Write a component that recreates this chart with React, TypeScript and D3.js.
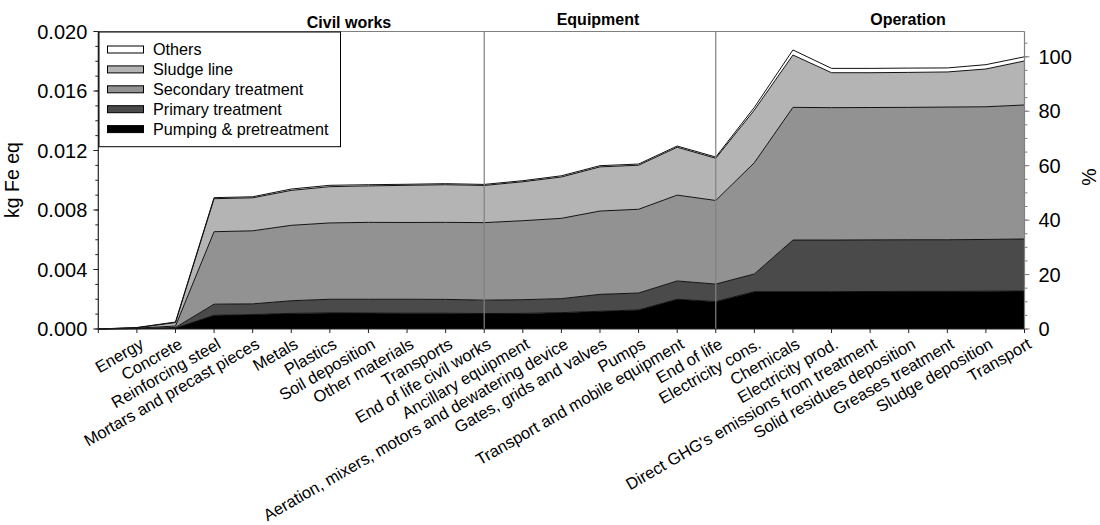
import React from "react";
import * as d3 from "d3";

// Process contributions (kg Fe eq), accumulated along the life-cycle steps
const categories = [
  "Energy", "Concrete", "Reinforcing steel", "Mortars and precast pieces", "Metals", "Plastics",
  "Soil deposition", "Other materials", "Transports", "End of life civil works",
  "Ancillary equipment", "Aeration, mixers, motors and dewatering device", "Gates, grids and valves",
  "Pumps", "Transport and mobile equipment", "End of life",
  "Electricity cons.", "Chemicals", "Electricity prod.", "Direct GHG's emissions from treatment",
  "Solid residues deposition", "Greases treatment", "Sludge deposition", "Transport",
];

const pumping = [0.00002, 0.00006, 0.00092, 0.00097, 0.00105, 0.00108, 0.00107, 0.00106, 0.00106, 0.00104, 0.00105, 0.0011, 0.00119, 0.00128, 0.002, 0.00184, 0.00251, 0.00251, 0.00251, 0.00252, 0.00253, 0.00253, 0.00254, 0.00255];
const primary = [0.00001, 0.00004, 0.00075, 0.00072, 0.00085, 0.00092, 0.00093, 0.00094, 0.00093, 0.0009, 0.00092, 0.00094, 0.00114, 0.00114, 0.00123, 0.00118, 0.00119, 0.00347, 0.00347, 0.00347, 0.00347, 0.00347, 0.00348, 0.0035];
const secondary = [0.00003, 0.0001, 0.00487, 0.00491, 0.00507, 0.00513, 0.00517, 0.00516, 0.00518, 0.00521, 0.00531, 0.0054, 0.0056, 0.00563, 0.00577, 0.00562, 0.00748, 0.00892, 0.0089, 0.0089, 0.0089, 0.00892, 0.00892, 0.00901];
const sludge = [0.00003, 0.00023, 0.00222, 0.00222, 0.00235, 0.00244, 0.00245, 0.0025, 0.00253, 0.0025, 0.00262, 0.00278, 0.00297, 0.00296, 0.00322, 0.00284, 0.00354, 0.00352, 0.00235, 0.00234, 0.00235, 0.00236, 0.00254, 0.00296];
const others = [0.00001, 0.00004, 0.00007, 0.00007, 0.00009, 0.00009, 0.00008, 0.00007, 0.00007, 0.00007, 0.00007, 0.00008, 0.00008, 0.00008, 0.00008, 0.00008, 0.00018, 0.00034, 0.00029, 0.00029, 0.00029, 0.00027, 0.00029, 0.00028];

const seriesNames = ["Pumping & pretreatment", "Primary treatment", "Secondary treatment", "Sludge line", "Others"];
const seriesColors = ["#000000", "#4a4a4a", "#929292", "#b4b4b4", "#ffffff"];
const seriesValues = [pumping, primary, secondary, sludge, others];

const groups = [
  { name: "Civil works", from: 0, to: 10 },
  { name: "Equipment", from: 10, to: 16 },
  { name: "Operation", from: 16, to: 24 },
];
const groupDividers = [10, 16];

const leftTicks = [0, 0.004, 0.008, 0.012, 0.016, 0.02];
const rightTicks = [0, 20, 40, 60, 80, 100];

const W = 1100;
const H = 525;
const M = { left: 98.3, right: 1024.5, top: 31.5, bottom: 329 };
const FONT = "'Liberation Sans', Arial, Helvetica, sans-serif";

export default function App() {
  // the series start from zero at the origin, then one point per step
  const rows = d3.range(categories.length + 1).map((i) => {
    const r: Record<string, number> = { i };
    seriesNames.forEach((n, k) => {
      r[n] = i === 0 ? 0 : seriesValues[k][i - 1];
    });
    return r;
  });
  const stacked = d3.stack<Record<string, number>>().keys(seriesNames)(rows);
  const grandTotal = stacked[stacked.length - 1][categories.length][1];

  const x = d3.scaleLinear().domain([0, categories.length]).range([M.left, M.right]);
  const y = d3.scaleLinear().domain([0, 0.02]).range([M.bottom, M.top]);
  const yPct = d3.scaleLinear().domain([0, (0.02 / grandTotal) * 100]).range([M.bottom, M.top]);

  const area = d3
    .area<d3.SeriesPoint<Record<string, number>>>()
    .x((d) => x(d.data.i))
    .y0((d) => y(d[0]))
    .y1((d) => y(d[1]));
  const topLine = d3
    .line<d3.SeriesPoint<Record<string, number>>>()
    .x((d) => x(d.data.i))
    .y((d) => y(d[1]));

  const leftMinor = d3.range(0, 0.0201, 0.001);
  const rightMinor = d3.range(0, 106, 5);
  const xTicks = d3.range(0, categories.length + 1);

  return (
    <div style={{ position: "absolute", left: 0, top: 0 }}>
      <svg width={W} height={H} style={{ display: "block", background: "#fff" }} fontFamily={FONT}>
        {/* stacked layers */}
        {stacked.map((s, k) => (
          <path key={s.key} d={area(s) || ""} fill={seriesColors[k]} />
        ))}
        {stacked.map((s) => (
          <path key={s.key + "-l"} d={topLine(s) || ""} fill="none" stroke="#111" strokeWidth={1} />
        ))}

        {/* group dividers */}
        {groupDividers.map((g) => (
          <line key={g} x1={x(g)} x2={x(g)} y1={M.top} y2={M.bottom} stroke="#808080" strokeWidth={1.2} />
        ))}

        {/* frame */}
        <line x1={M.left} x2={M.right} y1={M.top} y2={M.top} stroke="#808080" strokeWidth={1.2} />
        <line x1={M.right} x2={M.right} y1={M.top} y2={M.bottom} stroke="#808080" strokeWidth={1.2} />
        <line x1={M.left} x2={M.left} y1={M.top} y2={M.bottom} stroke="#222" strokeWidth={1.2} />
        <line x1={M.left} x2={M.right} y1={M.bottom} y2={M.bottom} stroke="#222" strokeWidth={1.2} />

        {/* left axis */}
        {leftMinor.map((v, i) => (
          <line key={"lm" + i} x1={M.left - 3} x2={M.left} y1={y(v)} y2={y(v)} stroke="#222" />
        ))}
        {leftTicks.map((v) => (
          <g key={"lt" + v}>
            <line x1={M.left - 5} x2={M.left} y1={y(v)} y2={y(v)} stroke="#222" />
            <text x={M.left - 11} y={y(v)} dy="0.36em" textAnchor="end" fontSize={20} fill="#000">
              {d3.format(".3f")(v)}
            </text>
          </g>
        ))}
        <text
          transform={`translate(${19},${180}) rotate(-90)`}
          textAnchor="middle"
          fontSize={19.5}
          fill="#000"
        >
          kg Fe eq
        </text>

        {/* right axis */}
        {rightMinor.map((v) => (
          <line key={"rm" + v} x1={M.right} x2={M.right + 3} y1={yPct(v)} y2={yPct(v)} stroke="#808080" />
        ))}
        {rightTicks.map((v) => (
          <g key={"rt" + v}>
            <line x1={M.right} x2={M.right + 5} y1={yPct(v)} y2={yPct(v)} stroke="#808080" />
            <text x={M.right + 14} y={yPct(v)} dy="0.36em" textAnchor="start" fontSize={20} fill="#000">
              {v}
            </text>
          </g>
        ))}
        <text
          transform={`translate(${1096},${177}) rotate(-90)`}
          textAnchor="middle"
          fontSize={19.5}
          fill="#000"
        >
          %
        </text>

        {/* x axis */}
        {xTicks.map((i) => (
          <line key={"xt" + i} x1={x(i)} x2={x(i)} y1={M.bottom} y2={M.bottom + 4} stroke="#222" />
        ))}
        {categories.map((c, k) => (
          <text
            key={c}
            transform={`translate(${x(k + 1) + 2},${337}) rotate(-30)`}
            textAnchor="end"
            dy="0.72em"
            fontSize={16.5}
            fill="#000"
          >
            {c}
          </text>
        ))}

        {/* group titles */}
        {groups.map((g, k) => (
          <text
            key={g.name}
            x={[349, 598, 908][k]}
            y={k === 0 ? 28 : 25}
            textAnchor="middle"
            fontSize={16}
            fontWeight="bold"
            fill="#000"
          >
            {g.name}
          </text>
        ))}

        {/* legend */}
        <rect x={99} y={32} width={241.5} height={114.7} fill="#fff" stroke="#000" strokeWidth={1} />
        {seriesNames
          .slice()
          .reverse()
          .map((n, k) => {
            const cy = 49.5 + k * 19.9;
            const color = seriesColors[seriesNames.length - 1 - k];
            return (
              <g key={"lg" + n}>
                <rect x={107.5} y={cy - 3.5} width={36} height={7} fill={color} stroke="#000" strokeWidth={1} />
                <text x={153} y={cy} dy="0.36em" fontSize={16.2} fill="#000">
                  {n}
                </text>
              </g>
            );
          })}
      </svg>
    </div>
  );
}
